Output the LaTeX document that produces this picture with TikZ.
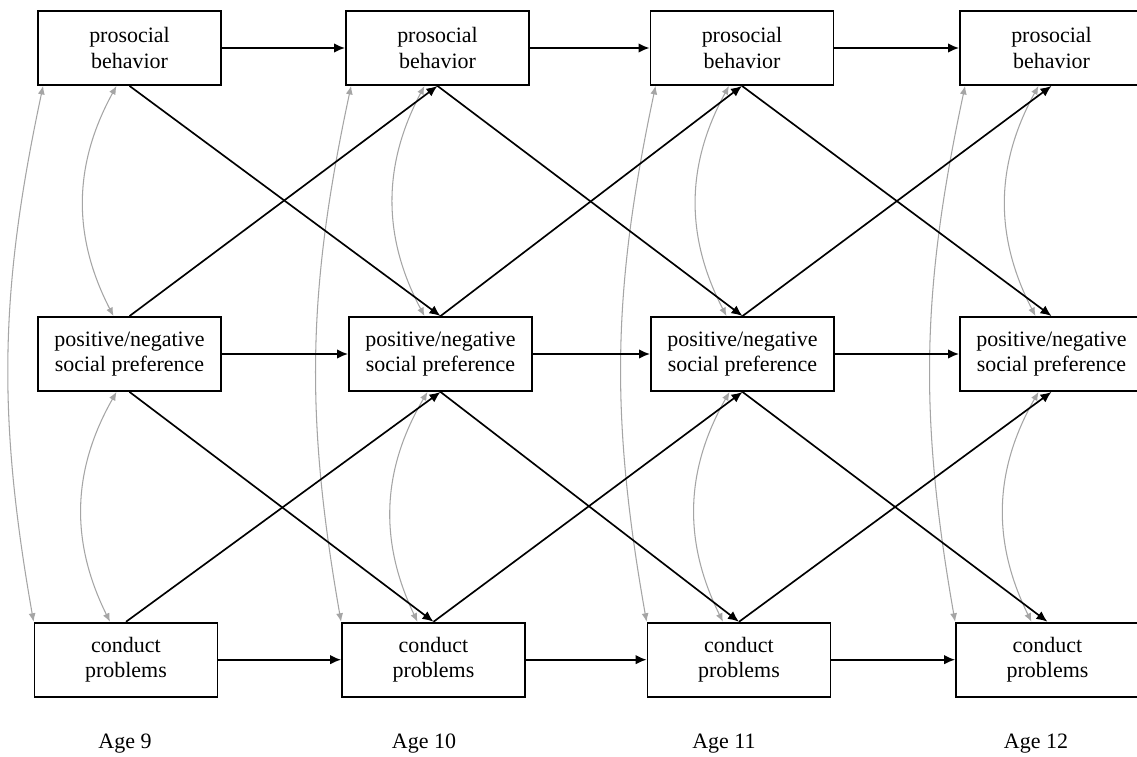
\documentclass[tikz,border=0pt]{standalone}
\usepackage{fontspec}
\setmainfont{Liberation Serif}
\usetikzlibrary{arrows.meta,calc}
\definecolor{arcgray}{RGB}{165,165,165}
\begin{document}
\begin{tikzpicture}[x=0.02cm,y=0.02cm,
  var/.style={draw,line width=1.05pt,minimum width=3.66cm,minimum height=1.48cm,inner sep=0pt,align=center,font=\fontsize{12.5}{14.7}\selectfont},
  lbl/.style={font=\fontsize{12.5}{14.7}\selectfont,inner sep=0pt},
  reg/.style={draw,line width=0.95pt,-{Latex[length=0.22cm,width=0.19cm]}},
  cov/.style={draw=arcgray,line width=0.6pt,{Latex[length=0.17cm,width=0.14cm]}-{Latex[length=0.17cm,width=0.14cm]}}
]
\clip (0,0) rectangle (1137,-757);
\fill[white] (0,0) rectangle (1137,-757);

% column 1
\node[var] (P1) at (129.5,-48) {prosocial\\behavior};
\node[var] (N1) at (129.5,-354) {positive/negative\\social preference};
\node[var] (C1) at (126,-659.7) {conduct\\problems};
% column 2
\node[var] (P2) at (437.5,-48) {prosocial\\behavior};
\node[var] (N2) at (440.5,-354) {positive/negative\\social preference};
\node[var] (C2) at (433.5,-659.7) {conduct\\problems};
% column 3
\node[var] (P3) at (742,-48) {prosocial\\behavior};
\node[var] (N3) at (742.5,-354) {positive/negative\\social preference};
\node[var] (C3) at (739,-659.7) {conduct\\problems};
% column 4
\node[var] (P4) at (1051.5,-48) {prosocial\\behavior};
\node[var] (N4) at (1051.5,-354) {positive/negative\\social preference};
\node[var] (C4) at (1047.5,-659.7) {conduct\\problems};

% age labels
\node[lbl] (A9) at (125,-744) {Age 9};
\node[lbl] (A10) at (424,-744) {Age 10};
\node[lbl] (A11) at (724,-744) {Age 11};
\node[lbl] (A12) at (1036,-744) {Age 12};

% covariance arcs
\foreach \i in {1,2,3,4}{
  \draw[cov] ($(P\i.south west)+(6,0)$) to[bend right=11] (C\i.north west);
  \draw[cov] ($(P\i.south)+(-13,0)$) to[bend right=28] ($(N\i.north)+(-16,0)$);
  \draw[cov] ($(N\i.south)+(-13,0)$) to[bend right=28] ($(C\i.north)+(-16,0)$);
}

% regressions
\foreach \i/\j in {1/2,2/3,3/4}{
  \draw[reg] (P\i.east) -- (P\j.west);
  \draw[reg] (N\i.east) -- (N\j.west);
  \draw[reg] (C\i.east) -- (C\j.west);
  \draw[reg] (P\i.south) -- (N\j.north);
  \draw[reg] (N\i.north) -- (P\j.south);
  \draw[reg] (N\i.south) -- (C\j.north);
  \draw[reg] (C\i.north) -- (N\j.south);
}
\end{tikzpicture}
\end{document}
